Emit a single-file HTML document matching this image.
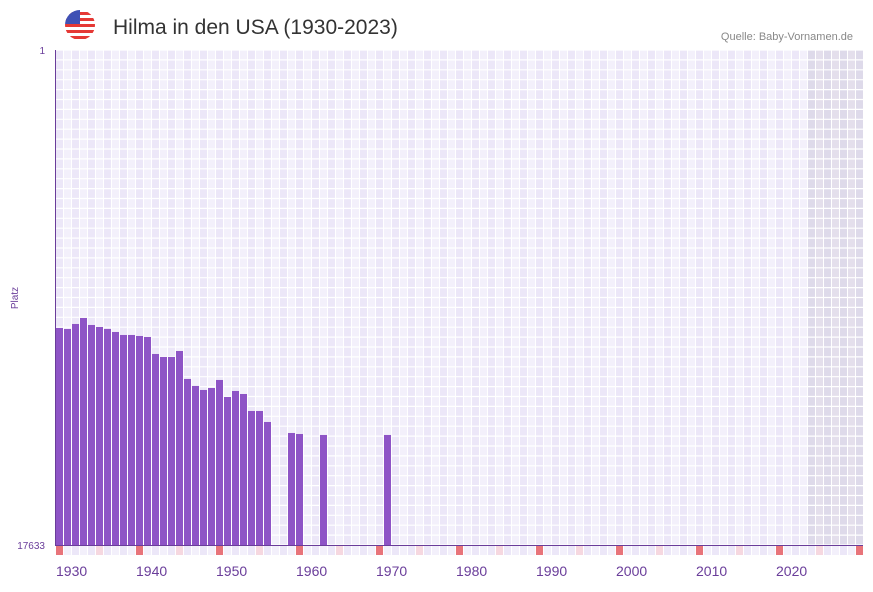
<!DOCTYPE html>
<html><head><meta charset="utf-8"><style>
body{margin:0;background:#fff;font-family:"Liberation Sans",sans-serif}
svg text{font-family:"Liberation Sans",sans-serif}
</style></head><body>
<svg id="c" width="873" height="587">
<g>
<clipPath id="fc"><circle cx="80" cy="25" r="15"/></clipPath>
<g clip-path="url(#fc)">
<rect x="65" y="10" width="30" height="30" fill="#fff"/>
<rect x="65" y="12" width="30" height="3" fill="#e53935"/>
<rect x="65" y="18" width="30" height="3" fill="#e53935"/>
<rect x="65" y="24" width="30" height="3" fill="#e53935"/>
<rect x="65" y="30" width="30" height="3" fill="#e53935"/>
<rect x="65" y="36" width="30" height="3" fill="#e53935"/>
<rect x="65" y="10" width="15" height="14" fill="#3f51b5"/>
</g></g>
<text x="113" y="34" font-size="21" fill="#333">Hilma in den USA (1930-2023)</text>
<text x="853" y="40" font-size="11" fill="#888" text-anchor="end">Quelle: Baby-Vornamen.de</text>
<g id="grid"></g>
<g id="bars"></g>
<g id="marks"></g>
<line x1="55.5" y1="50" x2="55.5" y2="545" stroke="#6a3d9a"/>
<line x1="55" y1="545.5" x2="863" y2="545.5" stroke="#6a3d9a"/>
<text x="45" y="54" font-size="10" fill="#6a3d9a" text-anchor="end">1</text>
<text x="45" y="549" font-size="10" fill="#6a3d9a" text-anchor="end">17633</text>
<text transform="translate(18,298) rotate(-90)" font-size="10" fill="#6a3d9a" text-anchor="middle">Platz</text>
<g id="xlabels"></g>
</svg>
<script>
const years=[1930,1931,1932,1933,1934,1935,1936,1937,1938,1939,1940,1941,1942,1943,1944,1945,1946,1947,1948,1949,1950,1951,1952,1953,1954,1955,1956,1959,1960,1963,1971];
const ranks=[9902,9938,9760,9546,9796,9867,9938,10045,10152,10152,10188,10223,10829,10935,10935,10722,11719,11968,12111,12040,11755,12360,12147,12254,12859,12859,13251,13643,13679,13714,13714];
const tickYears=[1930,1940,1950,1960,1970,1980,1990,2000,2010,2020];
const minYear=1930,maxYear=2030,maxRank=17633;
const NS="http://www.w3.org/2000/svg";
const x=y=>56+(y-minYear)*8;
const yS=r=>50+(r-1)/(maxRank-1)*495;
function mk(t,a,p){const e=document.createElementNS(NS,t);for(const k in a)e.setAttribute(k,a[k]);p.appendChild(e);return e;}
const grid=document.getElementById('grid');
for(let yr=minYear;yr<=maxYear;yr++){
  const shaded=yr>=2024;
  const col=shaded?((yr%2)?'#e4dfec':'#dedaea'):((yr%2)?'#f3f0fb':'#ece7f8');
  const r=mk('rect',{x:x(yr)-1,y:50,width:8,height:495,fill:col},grid);
  
  
}
for(let i=0;i<=50;i++){
  const l=mk('line',{x1:55,x2:863,y1:50+i*9.9,y2:50+i*9.9,stroke:'#fff','stroke-width':1.2},grid);
  
  
}
for(let yr=minYear;yr<=maxYear;yr++){
  const l=mk('line',{x1:x(yr)+7.5,x2:x(yr)+7.5,y1:50,y2:545,stroke:'#fff','stroke-width':1},grid);
  
  
}
const bars=document.getElementById('bars');
years.forEach((yr,i)=>{
  const t=yS(ranks[i]);
  const b=mk('rect',{x:x(yr),y:t,width:7,height:545-t,fill:'#8e54c6'},bars);
  
  
});
const marks=document.getElementById('marks');
for(let yr=minYear;yr<=maxYear;yr++){
  let col=(yr%2)?'#f3f0fb':'#ece7f8';
  if(yr%10==0)col='#e8747a';else if(yr%5==0)col='#f6d8e0';
  const m=mk('rect',{x:x(yr),y:546,width:7,height:9,fill:col},marks);
  
  
}
const xl=document.getElementById('xlabels');
tickYears.forEach(yr=>{
  const t=mk('text',{x:x(yr),y:576,'font-size':14,fill:'#6a3d9a'},xl);
  t.textContent=yr;
  
  
});
</script>
</body></html>
